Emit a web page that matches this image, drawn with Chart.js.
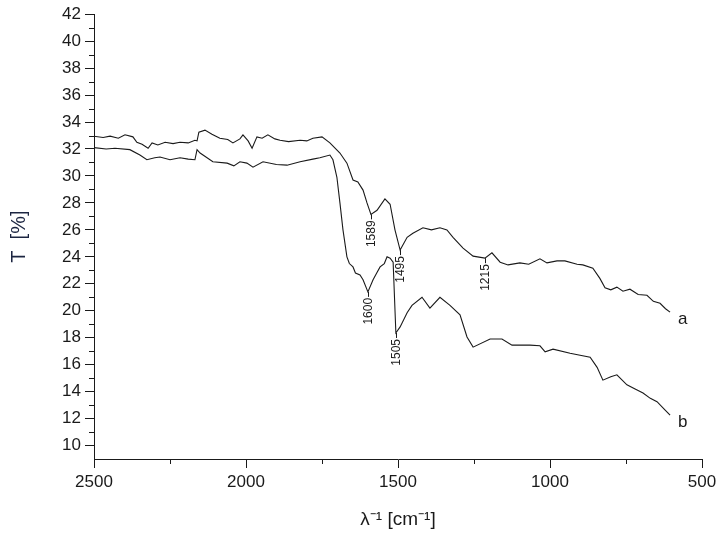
<!DOCTYPE html>
<html>
<head>
<meta charset="utf-8">
<script src="https://cdn.jsdelivr.net/npm/chart.js@4.4.0/dist/chart.umd.min.js"></script>
<style>
  html, body { margin: 0; padding: 0; background: #fff; }
</style>
</head>
<body>
<canvas id="irChart" width="716" height="539"></canvas>
<script>
// spectrum a (upper) - wavenumber / transmittance
const waveA = [2500, 2470, 2447, 2420, 2398, 2372, 2359, 2342, 2322, 2309, 2290, 2266, 2240, 2217, 2190, 2168, 2161, 2155, 2135, 2112, 2086,
  2060, 2043, 2020, 2010, 1993, 1980, 1964, 1947, 1928, 1905, 1888, 1860, 1822, 1800, 1780, 1750, 1724, 1691, 1668, 1648, 1632,
  1615, 1602, 1589, 1569, 1543, 1526, 1510, 1493, 1470, 1451, 1418, 1390, 1362, 1339, 1319, 1286, 1253, 1214, 1191,
  1164, 1138, 1099, 1070, 1033, 1010, 977, 951, 911, 892, 859, 836, 819, 800, 780, 760, 737, 710, 681, 660, 638, 620, 605];
const transA = [32.95, 32.85, 32.95, 32.8, 33.05, 32.9, 32.5, 32.35, 32.05, 32.45, 32.3, 32.5, 32.4, 32.5, 32.45, 32.65, 32.6, 33.25, 33.4, 33.1, 32.8,
  32.7, 32.45, 32.75, 33.05, 32.6, 32.05, 32.9, 32.8, 33.05, 32.75, 32.65, 32.55, 32.65, 32.6, 32.8, 32.9, 32.45, 31.7, 30.95, 29.7, 29.55,
  28.95, 28.0, 27.15, 27.45, 28.3, 27.9, 26.0, 24.5, 25.45, 25.75, 26.15, 26.0, 26.15, 26.0, 25.45, 24.65, 24.05, 23.9, 24.3,
  23.6, 23.4, 23.55, 23.45, 23.85, 23.55, 23.7, 23.7, 23.45, 23.4, 23.15, 22.4, 21.7, 21.55, 21.75, 21.45, 21.6, 21.2, 21.15, 20.7, 20.55, 20.15, 19.9];

// spectrum b (lower)
const waveB = [2500, 2460, 2431, 2382, 2349, 2326, 2300, 2283, 2250, 2217, 2190, 2168, 2161, 2151, 2109, 2062, 2040, 2020, 1997, 1977, 1944,
  1900, 1865, 1822, 1780, 1757, 1724, 1714, 1701, 1691, 1681, 1668, 1660, 1648, 1640, 1625, 1615, 1599, 1582, 1570, 1559, 1545, 1536, 1526,
  1516, 1507, 1493, 1470, 1454, 1421, 1395, 1362, 1329, 1296, 1273, 1253, 1197, 1158, 1125, 1066, 1033, 1016,
  990, 934, 901, 868, 845, 826, 800, 780, 747, 720, 694, 670, 648, 622, 605];
const transB = [32.1, 32.0, 32.05, 31.95, 31.55, 31.2, 31.35, 31.4, 31.2, 31.35, 31.25, 31.2, 31.95, 31.7, 31.05, 30.95, 30.75, 31.05, 30.95, 30.65, 31.05,
  30.85, 30.8, 31.05, 31.25, 31.35, 31.55, 31.2, 29.9, 28.0, 26.0, 24.0, 23.5, 23.25, 22.8, 22.65, 22.3, 21.4, 22.3, 22.8, 23.25, 23.5, 24.0, 23.9,
  23.6, 18.35, 18.8, 19.85, 20.4, 21.0, 20.2, 21.0, 20.4, 19.7, 18.05, 17.3, 17.9, 17.9, 17.45, 17.45, 17.4, 16.95,
  17.15, 16.85, 16.7, 16.55, 15.8, 14.85, 15.1, 15.25, 14.5, 14.2, 13.9, 13.5, 13.25, 12.65, 12.25];

const seriesNames = ["a", "b"];

// marked bands
const peakLabels = ["1589", "1495", "1215", "1600", "1505"];
const peakWaves = [1589, 1495, 1215, 1600, 1505];
const peakTrans = [27.15, 24.5, 23.9, 21.4, 18.35];

// axis ticks
const xTicks = [2500, 2000, 1500, 1000, 500];
const xMinor = [2250, 1750, 1250, 750];
const yTicks = [10, 12, 14, 16, 18, 20, 22, 24, 26, 28, 30, 32, 34, 36, 38, 40, 42];
const yMinor = [11, 13, 15, 17, 19, 21, 23, 25, 27, 29, 31, 33, 35, 37, 39, 41];

const ink = "#1a1a1a";
const font = "'Liberation Sans', Arial, sans-serif";

const toPoints = (xs, ys) => xs.map((x, i) => ({ x: x, y: ys[i] }));

const extras = {
  id: "extras",
  afterDatasetsDraw(chart) {
    const ctx = chart.ctx;
    const xs = chart.scales.x, ys = chart.scales.y;
    const area = chart.chartArea;
    ctx.save();
    ctx.strokeStyle = ink;
    ctx.fillStyle = ink;
    ctx.lineWidth = 1;

    // minor ticks
    xMinor.forEach(v => {
      const px = Math.round(xs.getPixelForValue(v)) + 0.5;
      ctx.beginPath();
      ctx.moveTo(px, area.bottom);
      ctx.lineTo(px, area.bottom + 5);
      ctx.stroke();
    });
    yMinor.forEach(v => {
      const py = Math.round(ys.getPixelForValue(v)) + 0.5;
      ctx.beginPath();
      ctx.moveTo(area.left, py);
      ctx.lineTo(area.left - 5, py);
      ctx.stroke();
    });

    // band labels, rotated
    ctx.font = "12px " + font;
    peakLabels.forEach((txt, i) => {
      const px = Math.round(xs.getPixelForValue(peakWaves[i])) + 0.5;
      const py = ys.getPixelForValue(peakTrans[i]);
      ctx.beginPath();
      ctx.moveTo(px, py);
      ctx.lineTo(px, py + 5);
      ctx.stroke();
      ctx.save();
      ctx.translate(px, py + 6);
      ctx.rotate(-Math.PI / 2);
      ctx.textAlign = "right";
      ctx.textBaseline = "middle";
      ctx.fillText(txt, 0, 0);
      ctx.restore();
    });

    // series names at the end of each curve
    ctx.font = "17px " + font;
    ctx.textAlign = "left";
    ctx.textBaseline = "middle";
    chart.data.datasets.forEach((ds, i) => {
      const last = ds.data[ds.data.length - 1];
      const px = xs.getPixelForValue(last.x);
      const py = ys.getPixelForValue(last.y);
      ctx.fillText(seriesNames[i], px + 8, py + 7);
    });
    ctx.restore();
  }
};

new Chart(document.getElementById("irChart"), {
  type: "line",
  data: {
    datasets: [
      { label: seriesNames[0], data: toPoints(waveA, transA), borderColor: ink, borderWidth: 1.1, pointRadius: 0, tension: 0 },
      { label: seriesNames[1], data: toPoints(waveB, transB), borderColor: ink, borderWidth: 1.1, pointRadius: 0, tension: 0 }
    ]
  },
  options: {
    responsive: false,
    animation: false,
    devicePixelRatio: 1,
    layout: { padding: { top: 14, right: 0, left: 0, bottom: 0 } },
    plugins: { legend: { display: false }, tooltip: { enabled: false } },
    scales: {
      x: {
        type: "linear",
        reverse: true,
        min: 500,
        max: 2500,
        afterBuildTicks: (s) => { s.ticks = xTicks.map(v => ({ value: v })); },
        afterFit: (s) => { s.height = 80; s.paddingRight = 14; },
        ticks: { color: ink, font: { family: font, size: 17 }, padding: 4, maxRotation: 0, callback: (v) => String(v) },
        grid: { drawOnChartArea: false, tickLength: 9, tickColor: ink },
        border: { color: ink, width: 1 },
        title: { display: true, text: "λ⁻¹ [cm⁻¹]", color: ink, font: { family: font, size: 19 }, padding: { top: 0, bottom: 8 } }
      },
      y: {
        min: 9,
        max: 42,
        afterBuildTicks: (s) => { s.ticks = yTicks.map(v => ({ value: v })); },
        afterFit: (s) => { s.width = 94; },
        ticks: { color: ink, font: { family: font, size: 17 }, padding: 4, callback: (v) => String(v) },
        grid: { drawOnChartArea: false, tickLength: 9, tickColor: ink },
        border: { color: ink, width: 1 },
        title: { display: true, text: "T  [%]", color: "#1c2541", font: { family: font, size: 20 }, padding: { top: 7, bottom: 0 } }
      }
    }
  },
  plugins: [extras]
});
</script>
</body>
</html>
